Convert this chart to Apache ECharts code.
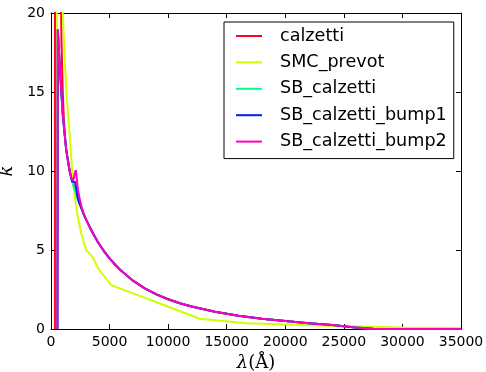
<!DOCTYPE html>
<html><head><meta charset="utf-8">
<script src="https://cdn.jsdelivr.net/npm/echarts@6/dist/echarts.min.js"></script>
<style>html,body{margin:0;padding:0;background:#fff}#c{width:486px;height:372px}</style>
</head><body><div id="c"></div>
<script>
const seriesNames = ['calzetti','SMC_prevot','SB_calzetti','SB_calzetti_bump1','SB_calzetti_bump2'];
const xTicks = [0,5000,10000,15000,20000,25000,30000,35000];
const yTicks = [0,5,10,15,20];

const tailLam = [2800,3000,3300,3600,4000,4500,5000,5500,6000,6500,7000,8000,9000,10000,11000,12000,14000,16000,18000,20000,22000,24000,26000,27500,28500,35000];
const tailK   = [7.26,6.92,6.46,6.03,5.51,4.95,4.47,4.05,3.68,3.37,3.06,2.57,2.19,1.88,1.63,1.42,1.09,0.84,0.65,0.5,0.37,0.25,0.1,0.02,0,0];

const lamCal = [335,345,500,700,800,860,900,1000,1100,1200,1300,1435,1600,1720,1860,2000,2120,2250,2430,2600].concat(tailLam);
const kCal   = [0,150,100,45,30,20.3,18.0,15.04,13.25,12.12,11.34,10.7,9.97,9.6,9.25,8.87,8.6,8.32,7.95,7.63].concat(tailK);

const lamSMC = [520,535,700,900,1010,1200,1349,1435,1580,1864,2150,2290,2580,3000,3500,4100,5140,9230,12700,16660,23490,30030,35000];
const kSMC   = [0,60,45,28,19.9,16.7,14.5,13.86,12.4,9.43,7.74,7.1,6.06,5.0,4.6,3.75,2.78,1.63,0.65,0.36,0.21,0.1,0.06];

const lamSB = [550,580,700,800,925,1000,1150,1300,1435,1600,1720,1860,2000,2120,2250,2430,2600].concat(tailLam);
const kSB   = [0,18.95,17.3,16.0,14.5,13.6,12.45,11.34,10.7,9.97,9.6,9.25,8.87,8.6,8.32,7.95,7.63].concat(tailK);

const lamB1 = [550,580,700,800,925,1000,1150,1300,1435,1600,1720,1800,1950,2060,2150,2250,2350,2430,2600].concat(tailLam);
const kB1   = [0,18.95,17.3,16.0,14.5,13.6,12.45,11.34,10.7,9.97,9.6,9.33,9.3,9.3,8.9,8.45,8.12,7.95,7.63].concat(tailK);

const lamB2 = [550,580,700,800,925,1000,1150,1300,1435,1600,1720,1860,1950,2050,2120,2200,2300,2430,2600].concat(tailLam);
const kB2   = [0,18.95,17.3,16.0,14.5,13.6,12.45,11.34,10.7,9.97,9.6,9.38,9.55,9.9,10.05,9.5,8.8,8.3,7.75].concat(tailK);

const colors = ['#ff0029','#cfff00','#00ff89','#001cff','#ff00bf'];
const lams = [lamCal, lamSMC, lamSB, lamB1, lamB2];
const ks = [kCal, kSMC, kSB, kB1, kB2];

const chart = echarts.init(document.getElementById('c'), null, {renderer:'canvas'});
const font = 'DejaVu Sans';
const axisCommon = {
  type:'value', axisLine:{show:true, onZero:false, lineStyle:{color:'#000', width:1}},
  axisTick:{show:true, inside:true, length:5, lineStyle:{color:'#000'}},
  splitLine:{show:false}
};
chart.setOption({
  animation:false,
  backgroundColor:'#fff',
  color: colors,
  grid:{left:51, top:13, width:410, height:316, containLabel:false, outerBoundsMode:'none'},
  xAxis:[
    Object.assign({}, axisCommon, {position:'bottom', min:xTicks[0], max:xTicks[xTicks.length-1], interval:5000,
      axisLabel:{color:'#000', fontFamily:font, fontSize:14, margin:6, formatter:(v)=>String(v)},
      name:'{i|λ}{n|(Å)}', nameLocation:'middle', nameGap:22,
      nameTextStyle:{rich:{i:{fontFamily:'DejaVu Serif', fontStyle:'italic', fontSize:18, color:'#000'}, n:{fontFamily:'DejaVu Serif', fontSize:18, color:'#000'}}}
    }),
    Object.assign({}, axisCommon, {position:'top', min:xTicks[0], max:xTicks[xTicks.length-1], interval:5000, axisLabel:{show:false}})
  ],
  yAxis:[
    Object.assign({}, axisCommon, {position:'left', min:yTicks[0], max:yTicks[yTicks.length-1], interval:5,
      axisLabel:{color:'#000', fontFamily:font, fontSize:14, margin:6, formatter:(v)=>String(v)},
      name:'k', nameLocation:'middle', nameGap:31, nameRotate:90,
      nameTextStyle:{fontFamily:'DejaVu Serif', fontStyle:'italic', fontSize:18, color:'#000'}
    }),
    Object.assign({}, axisCommon, {position:'right', min:yTicks[0], max:yTicks[yTicks.length-1], interval:5, axisLabel:{show:false}})
  ],
  legend:{
    orient:'vertical', left:224, top:22,
    data: seriesNames,
    icon:'rect', itemWidth:26, itemHeight:2, itemGap:6.4,
    padding:[4,7,7,12],
    borderColor:'#000', borderWidth:1, backgroundColor:'#fff',
    textStyle:{fontFamily:font, fontSize:17.6, color:'#000', lineHeight:20, padding:[0,0,0,13]}
  },
  series: seriesNames.map((n,i)=>({
    name:n, type:'line', showSymbol:false, symbol:'none', clip:true,
    lineStyle:{width:2, color:colors[i]}, itemStyle:{color:colors[i]},
    data: lams[i].map((x,j)=>[x, ks[i][j]])
  }))
});
</script></body></html>
